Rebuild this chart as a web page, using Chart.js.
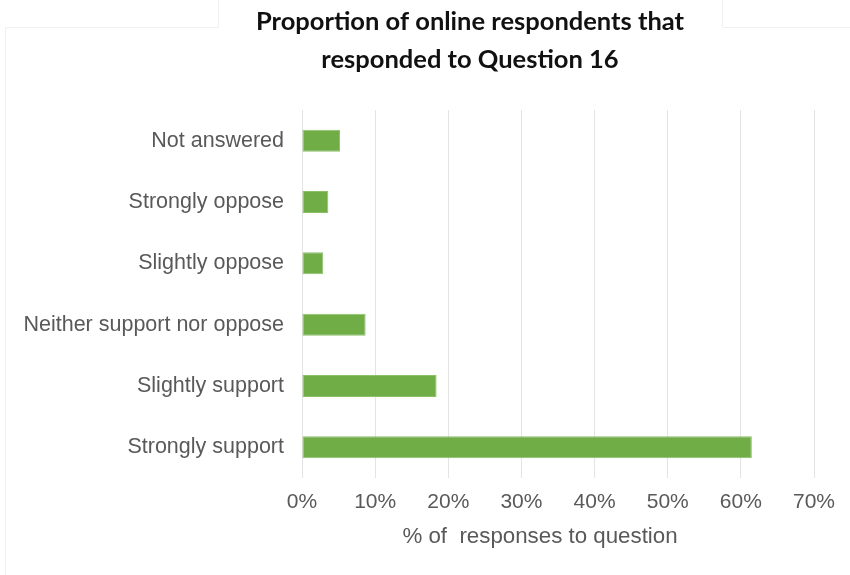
<!DOCTYPE html>
<html>
<head>
<meta charset="utf-8">
<style>
  html, body { margin: 0; padding: 0; background: #ffffff; }
  #wrap { width: 850px; height: 575px; position: relative; }
</style>
<script src="https://cdn.jsdelivr.net/npm/chart.js@4.4.1/dist/chart.umd.min.js"></script>
</head>
<body>
<div id="wrap"><canvas id="chart" width="850" height="575"></canvas></div>
<script>
// Survey answers to Question 16 (online respondents)
const categories = [
  'Not answered',
  'Strongly oppose',
  'Slightly oppose',
  'Neither support nor oppose',
  'Slightly support',
  'Strongly support'
];
const shares = [5.2, 3.6, 2.9, 8.7, 18.4, 61.5]; // % of responses
const xTicks = [0, 10, 20, 30, 40, 50, 60, 70];
const titleLines = ['Proportion of online respondents that', 'responded to Question 16'];
const xAxisTitle = '% of  responses to question';

// Heading, axis caption and the faint frame around the chart panel
const framePlugin = {
  id: 'frame',
  beforeDraw(chart) {
    const ctx = chart.ctx;
    ctx.save();
    ctx.fillStyle = '#ffffff';
    ctx.fillRect(0, 0, chart.width, chart.height);
    ctx.strokeStyle = '#f0f0f0';
    ctx.lineWidth = 1;
    ctx.beginPath();
    ctx.moveTo(5.5, 575); ctx.lineTo(5.5, 27.5); ctx.lineTo(218.5, 27.5); ctx.lineTo(218.5, 0);
    ctx.moveTo(722.5, 0); ctx.lineTo(722.5, 27.5); ctx.lineTo(850, 27.5);
    ctx.stroke();
    ctx.restore();
  },
  afterDraw(chart) {
    const ctx = chart.ctx;
    ctx.save();
    ctx.fillStyle = '#111111';
    ctx.font = 'bold 25.5px Lato, "Open Sans", sans-serif';
    ctx.textAlign = 'center';
    ctx.textBaseline = 'middle';
    ctx.fillText(titleLines[0], 470, 22);
    ctx.fillText(titleLines[1], 470, 60);

    ctx.fillStyle = '#595959';
    ctx.font = '22.3px "Liberation Sans", Arial, sans-serif';
    ctx.fillText(xAxisTitle, 540, 537);
    ctx.restore();
  }
};

new Chart(document.getElementById('chart'), {
  type: 'bar',
  data: {
    labels: categories,
    datasets: [{
      data: shares,
      backgroundColor: '#70ad47',
      borderColor: '#8cc168',
      borderWidth: 1,
      borderSkipped: false,
      barPercentage: 0.36,
      categoryPercentage: 1
    }]
  },
  options: {
    indexAxis: 'y',
    responsive: false,
    animation: false,
    layout: { padding: { top: 110, left: 0, right: 36, bottom: 20 } },
    plugins: {
      legend: { display: false },
      title: { display: false },
      tooltip: { enabled: false }
    },
    scales: {
      x: {
        min: 0,
        max: 70,
        afterBuildTicks(scale) { scale.ticks = xTicks.map(v => ({ value: v })); },
        afterFit(scale) { scale.height = 77; },
        ticks: {
          color: '#595959',
          font: { family: '"Liberation Sans", Arial, sans-serif', size: 21 },
          padding: 12,
          callback: v => v + '%'
        },
        grid: { color: '#e3e3e3', lineWidth: 1, drawTicks: false },
        border: { display: false }
      },
      y: {
        afterFit(scale) { scale.width = 302; },
        ticks: {
          color: '#595959',
          font: { family: '"Liberation Sans", Arial, sans-serif', size: 21.5 },
          padding: 10
        },
        grid: { display: false },
        border: { display: false }
      }
    }
  },
  plugins: [framePlugin]
});
</script>
</body>
</html>
